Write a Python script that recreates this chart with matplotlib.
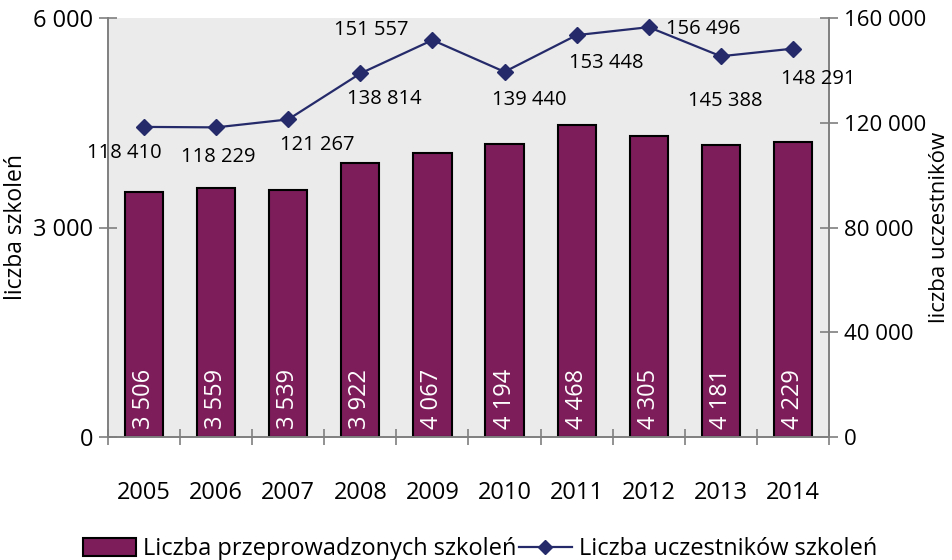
import matplotlib
matplotlib.use('Agg')
import matplotlib.pyplot as plt
from matplotlib.lines import Line2D
from matplotlib.patches import Patch

# --- DANE ---
lata = ['2005', '2006', '2007', '2008', '2009', '2010', '2011', '2012', '2013', '2014']
szkolenia = [3506, 3559, 3539, 3922, 4067, 4194, 4468, 4305, 4181, 4229]
uczestnicy = [118410, 118229, 121267, 138814, 151557, 139440, 153448, 156496, 145388, 148291]

# przesuniecia etykiet linii (piksele, wzgledem markera)
przesuniecia = [(-20, -26), (2, -30), (29, -26), (24, -26), (-61, 10),
                (25, -28), (30, -28), (54, -2), (4, -45), (25, -30)]

FIOLET = '#7D1D5A'
GRANAT = '#252B6A'
SZARY = '#7F7F7F'


def fmt(v):
    return f'{v:,}'.replace(',', ' ')


plt.rcParams['font.family'] = ['Open Sans', 'DejaVu Sans']

fig = plt.figure(figsize=(9.52, 5.6), dpi=100)
ax = fig.add_axes([0.1134, 0.2196, 0.8708 - 0.1134, 0.9679 - 0.2196])
ax.set_facecolor('#EBEBEB')

x = list(range(len(lata)))
ax.bar(x, szkolenia, width=0.53, color=FIOLET, edgecolor='black', linewidth=1.5, zorder=2)
for xi, v in zip(x, szkolenia):
    ax.annotate(fmt(v), (xi, 0), xytext=(0, 8), textcoords='offset pixels',
                rotation=90, color='white', ha='center', va='bottom',
                fontsize=17, zorder=3)

ax.set_xlim(-0.5, len(lata) - 0.5)
ax.set_ylim(0, 6000)
ax.set_yticks([0, 3000, 6000])
ax.set_yticklabels([fmt(t) for t in [0, 3000, 6000]])
ax.set_xticks(x)
ax.set_xticklabels(lata)
ax.set_xticks([i - 0.5 for i in range(len(lata) + 1)], minor=True)
ax.tick_params(axis='x', which='major', length=0, pad=32, labelsize=17)
ax.tick_params(axis='x', which='minor', length=12, direction='inout', color=SZARY, width=1.2)
ax.tick_params(axis='y', length=13, direction='inout', color=SZARY, width=1.2, labelsize=17, pad=4)
ax.set_ylabel('liczba szkoleń', fontsize=16.5, labelpad=4)
ax.spines['top'].set_visible(False)
for s in ['left', 'bottom', 'right']:
    ax.spines[s].set_color(SZARY)
    ax.spines[s].set_linewidth(1.2)

ax2 = ax.twinx()
ax2.plot(x, uczestnicy, color=GRANAT, marker='D', markersize=8, linewidth=1.6, zorder=4)
for xi, v, (dx, dy) in zip(x, uczestnicy, przesuniecia):
    ax2.annotate(fmt(v), (xi, v), xytext=(dx, dy), textcoords='offset pixels',
                 ha='center', va='center', fontsize=14.5, annotation_clip=False)
ax2.set_ylim(0, 160000)
ticks2 = [0, 40000, 80000, 120000, 160000]
ax2.set_yticks(ticks2)
ax2.set_yticklabels([fmt(t) for t in ticks2])
ax2.tick_params(axis='y', length=13, direction='inout', color=SZARY, width=1.2, labelsize=16, pad=4)
ax2.set_ylabel('liczba uczestników', fontsize=16, labelpad=2)
ax2.spines['top'].set_visible(False)
for s in ['left', 'bottom', 'right']:
    ax2.spines[s].set_color(SZARY)
    ax2.spines[s].set_linewidth(1.2)

uchwyty = [Patch(facecolor=FIOLET, edgecolor='black', linewidth=1.5),
           Line2D([0], [0], color=GRANAT, marker='D', markersize=7, linewidth=1.6)]
fig.legend(uchwyty, ['Liczba przeprowadzonych szkoleń', 'Liczba uczestników szkoleń'],
           loc='center', bbox_to_anchor=(0.504, 0.019), ncol=2, frameon=False,
           fontsize=17, handlelength=2.25, handleheight=0.75, handletextpad=0.3,
           columnspacing=0.1, borderpad=0)

fig.savefig('out.png', dpi=100)
